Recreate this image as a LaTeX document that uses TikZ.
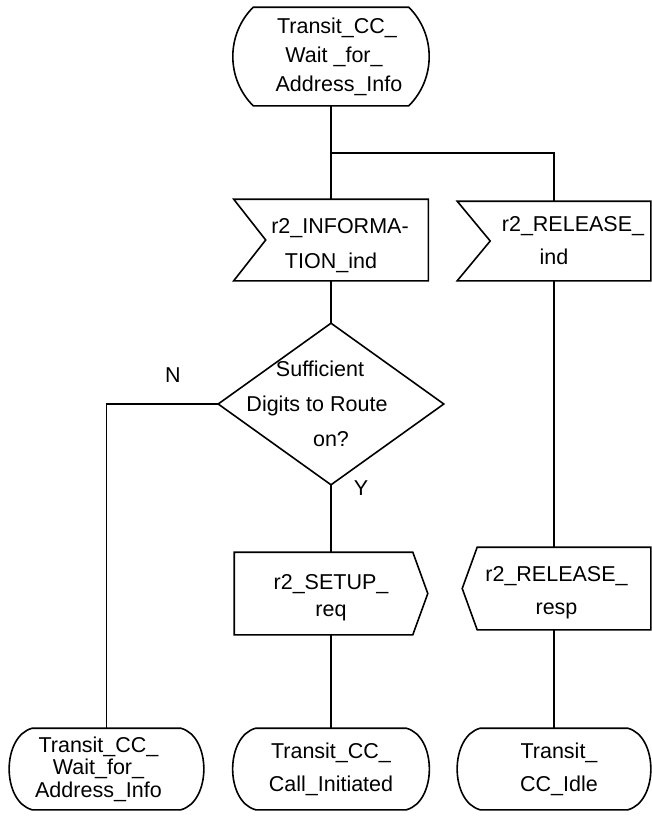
\documentclass[tikz,border=0pt]{standalone}
\usepackage{fontspec}
\setmainfont{Liberation Sans}
\usepackage{tikz}
\newcommand{\flowfont}[1]{\fontsize{21.5}{#1}\selectfont}
\newcommand{\flowpad}[1]{\hbox to #1{}}

\begin{document}
\begin{tikzpicture}[x=1pt,y=-1pt,line width=1.6pt,line join=miter,
  flowbox/.style={inner sep=0pt,align=center},
  lbl/.style={inner sep=0pt,font=\flowfont{24}}]
\useasboundingbox (0,0) rectangle (652,820);
\node[flowbox,minimum width=194,minimum height=97,font=\flowfont{29}] (waitA) at (331,56.5) {\flowpad{12pt}Transit\_CC\_\\\flowpad{6pt}Wait \_for\_\\\flowpad{16pt}Address\_Info};
\node[flowbox,minimum width=193,minimum height=80,font=\flowfont{35}] (info) at (331,240) {\rule{0pt}{25.5pt}\flowpad{18pt}r2\_INFORMA-\\TION\_ind};
\node[flowbox,minimum width=192,minimum height=78,font=\flowfont{33}] (relind) at (554,241) {\flowpad{38pt}r2\_RELEASE\_\\ind};
\node[flowbox,minimum width=224,minimum height=160,font=\flowfont{35}] (route) at (331,404) {Sufficient\flowpad{22pt}\\Digits to Route\flowpad{28pt}\\on?};
\node[flowbox,minimum width=192,minimum height=81,font=\flowfont{27}] (setup) at (331,593.5) {\rule{0pt}{23.5pt}r2\_SETUP\_\\req};
\node[flowbox,minimum width=187,minimum height=81,font=\flowfont{33}] (relresp) at (556.5,588.5) {\rule{0pt}{23.5pt}r2\_RELEASE\_\\resp};
\node[flowbox,minimum width=193,minimum height=80,font=\flowfont{22.5}] (waitB) at (106.5,769) {Transit\_CC\_\flowpad{16pt}\\Wait\_for\_\flowpad{16pt}\\Address\_Info\flowpad{16pt}};
\node[flowbox,minimum width=195,minimum height=80,font=\flowfont{33}] (called) at (331,769) {Transit\_CC\_\\Call\_Initiated};
\node[flowbox,minimum width=192,minimum height=80,font=\flowfont{33}] (idle) at (554,769) {\flowpad{10pt}Transit\_\\\flowpad{10pt}CC\_Idle};
\node[lbl] (no) at (173,375) {N};
\node[lbl] (yes) at (361,488) {Y};

\draw ([xshift=20pt]waitA.north west) -- ([xshift=-20pt]waitA.north east) to[bend left=45] ([xshift=-20pt]waitA.south east) -- ([xshift=20pt]waitA.south west) to[bend left=45] ([xshift=20pt]waitA.north west) -- cycle;
\draw (info.north west) -- (info.north east) -- (info.south east) -- (info.south west) -- ([xshift=32pt]info.west) -- cycle;
\draw (relind.north west) -- (relind.north east) -- (relind.south east) -- (relind.south west) -- ([xshift=33pt]relind.west) -- cycle;
\draw (route.north) -- (route.east) -- (route.south) -- (route.west) -- cycle;
\draw (setup.north west) -- ([xshift=-15pt]setup.north east) -- (setup.east) -- ([xshift=-15pt]setup.south east) -- (setup.south west) -- cycle;
\draw (relresp.west) -- ([xshift=15pt]relresp.north west) -- (relresp.north east) -- (relresp.south east) -- ([xshift=15pt]relresp.south west) -- cycle;
\foreach \st in {waitB,called,idle}
  \draw ([xshift=23pt]\st.north west) -- ([xshift=-23pt]\st.north east) to[bend left=75] ([xshift=-23pt]\st.south east) -- ([xshift=23pt]\st.south west) to[bend left=75] ([xshift=23pt]\st.north west) -- cycle;

\coordinate (split) at (331,153);
\draw (waitA.south) -- (info.north);
\draw (split) -| (relind.north);
\draw (info.south) -- (route.north);
\draw (route.west) -| (waitB.north);
\draw (route.south) -- (setup.north);
\draw (setup.south) -- (called.north);
\draw (relind.south) -- (relind.south |- relresp.north);
\draw (idle.north |- relresp.south) -- (idle.north);
\end{tikzpicture}
\end{document}
